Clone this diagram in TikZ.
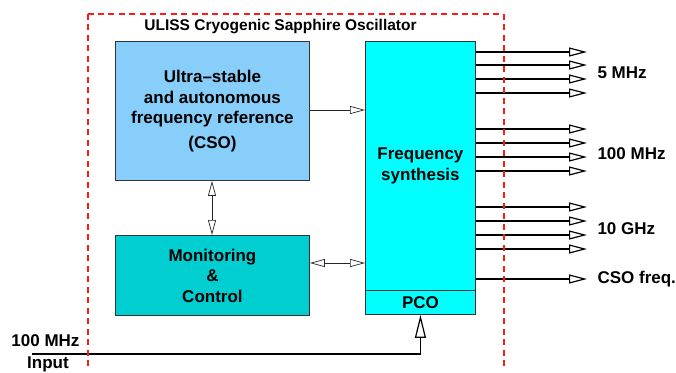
\documentclass[tikz,border=0pt]{standalone}
\usepackage{fontspec}
\setmainfont{Liberation Sans}
\usetikzlibrary{arrows.meta}
\definecolor{csoblue}{HTML}{87CEFA}
\definecolor{mcteal}{HTML}{00CED1}
\definecolor{fscyan}{HTML}{00FFFF}
\definecolor{ulissred}{HTML}{FF1A1A}
\begin{document}
\begin{tikzpicture}[x=1pt,y=-1pt,
  txt/.style={font=\bfseries\fontsize{17}{20.5}\selectfont, align=center},
  box/.style={draw=black!80, line width=0.9pt, anchor=north west, inner sep=0pt, txt},
  thinarr/.style={line width=0.7pt, draw=black!85, {Triangle[open, length=15pt, width=8pt]}-{Triangle[open, length=15pt, width=8pt]}},
  onearr/.style={line width=0.7pt, draw=black!85, -{Triangle[open, length=15pt, width=8pt]}},
  outarr/.style={line width=1.3pt, -{Triangle[open, length=18pt, width=9pt, line width=1.2pt]}},
  inarr/.style={line width=1.3pt, -{Triangle[open, length=23pt, width=11pt, line width=1.2pt]}},
  reddash/.style={fill=ulissred, draw=none}
]
\useasboundingbox (0,0) rectangle (676,372);
\node[font=\bfseries\fontsize{15.5}{18}\selectfont] (title) at (280.5,27) {ULISS Cryogenic Sapphire Oscillator};
% boxes
\node[box, fill=csoblue, minimum width=194pt, minimum height=139pt] (cso) at (115,41)
  {Ultra–stable\\and autonomous\\frequency reference\\[4pt](CSO)};
\node[box, fill=mcteal, minimum width=194pt, minimum height=80pt] (mc) at (115,235)
  {Monitoring\\\&\\Control};
\node[box, fill=fscyan, minimum width=110pt, minimum height=249pt] (fs) at (365,41)
  {Frequency\\synthesis};
\node[box, fill=fscyan, minimum width=110pt, minimum height=24pt] (pco) at (365,290) {PCO};
% internal connectors
\draw[onearr] (cso.east |- 0,110) -- (fs.west |- 0,110);
\draw[thinarr] (cso.south -| 212,0) -- (mc.north -| 212,0);
\draw[thinarr] (mc.east |- 0,263) -- (fs.west |- 0,263);
% outputs
\foreach \y [count=\i] in {52,65,79,93,129,143,157,171,207,221,235,249,279} {
  \coordinate (o\i) at (587,\y);
  \draw[outarr] (fs.east |- o\i) -- (o\i);
}
\node[txt, anchor=west] (l5) at (594,73) {5 MHz};
\node[txt, anchor=west] (l100) at (594,154) {100 MHz};
\node[txt, anchor=west] (l10) at (594,229) {10 GHz};
\node[txt, anchor=west] (lcso) at (594,279.5) {CSO freq.};
% input
\coordinate (inA) at (32,354);
\draw[inarr] (inA) -| (pco.south);
\node[txt, anchor=east] (inl) at (83,341) {100 MHz};
\node[txt] (inl2) at (48,364) {Input};
% red dashed frame, drawn as small filled bars
\foreach \s in {0,10.5,...,355} {
  \fill[reddash] (86.5,{13.5+\s}) rectangle (88.5,{19.5+\s});
  \fill[reddash] (502.5,{13.5+\s}) rectangle (504.5,{19.5+\s});
}
\foreach \s in {0,10.4,...,410} {
  \fill[reddash] ({87.5+\s},12.5) rectangle ({93.5+\s},14.5);
}
\end{tikzpicture}
\end{document}
